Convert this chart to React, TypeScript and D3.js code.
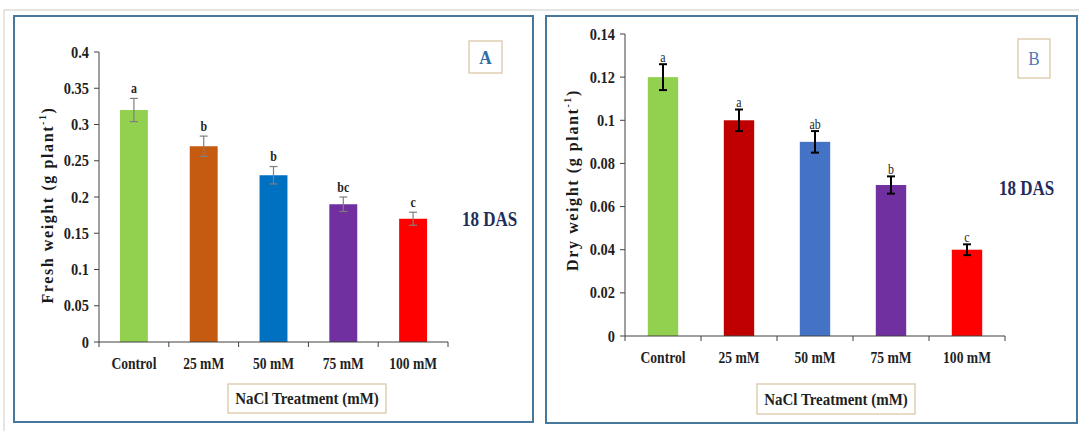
import React, { useEffect, useRef } from "react";
import * as d3 from "d3";

// treatments on the x axis
const categories = ["Control", "25 mM", "50 mM", "75 mM", "100 mM"];

// panel A: fresh weight
const freshWeight = [0.32, 0.27, 0.23, 0.19, 0.17];
const freshError = [0.016, 0.014, 0.012, 0.01, 0.009];
const freshLetters = ["a", "b", "b", "bc", "c"];
const freshTicks = [0, 0.05, 0.1, 0.15, 0.2, 0.25, 0.3, 0.35, 0.4];
const freshColors = ["#92d050", "#c55a11", "#0070c0", "#7030a0", "#ff0000"];

// panel B: dry weight
const dryWeight = [0.12, 0.1, 0.09, 0.07, 0.04];
const dryError = [0.006, 0.005, 0.005, 0.004, 0.0025];
const dryLetters = ["a", "a", "ab", "b", "c"];
const dryTicks = [0, 0.02, 0.04, 0.06, 0.08, 0.1, 0.12, 0.14];
const dryColors = ["#92d050", "#c00000", "#4472c4", "#7030a0", "#ff0000"];

const SERIF = "'Liberation Serif', 'Times New Roman', serif";

type G = d3.Selection<SVGGElement, unknown, null, undefined>;

// condensed serif text, like the squeezed Times in the original figure
function label(
  g: G,
  x: number,
  y: number,
  txt: string,
  size: number,
  sx: number,
  anchor: string,
  bold = true,
  fill = "#1f1f1f"
) {
  return g
    .append("text")
    .attr("transform", `translate(${x},${y}) scale(${sx},1)`)
    .attr("dy", "0.35em")
    .attr("text-anchor", anchor)
    .attr("font-family", SERIF)
    .attr("font-weight", bold ? "bold" : "normal")
    .attr("font-size", size)
    .attr("fill", fill)
    .text(txt);
}

type PanelOpts = {
  box: [number, number, number, number];
  xRange: [number, number];
  yRange: [number, number];
  yMax: number;
  values: number[];
  errors: number[];
  letters: string[];
  ticks: number[];
  colors: string[];
  yLabel: string;
  yLabelPos: [number, number];
  tag: string;
  tagBox: [number, number, number, number];
  tagColor: string;
  tagBold: boolean;
  dasPos: [number, number];
  nameBox: [number, number, number, number];
  errColor: string;
  errWidth: number;
  letterBold: boolean;
  letterGap: number;
};

function drawPanel(svg: d3.Selection<SVGSVGElement, unknown, null, undefined>, o: PanelOpts) {
  const g = svg.append("g") as unknown as G;

  // panel frame
  g.append("rect")
    .attr("x", o.box[0])
    .attr("y", o.box[1])
    .attr("width", o.box[2])
    .attr("height", o.box[3])
    .attr("fill", "#ffffff")
    .attr("stroke", "#45789b")
    .attr("stroke-width", 2);

  const x = d3.scaleBand<string>().domain(categories).range(o.xRange).padding(0);
  const y = d3.scaleLinear().domain([0, o.yMax]).range(o.yRange);
  const bw = x.bandwidth() * 0.4;
  const cx = (c: string) => (x(c) as number) + x.bandwidth() / 2;

  // bars
  g.selectAll(".bar")
    .data(categories)
    .enter()
    .append("rect")
    .attr("x", (d) => cx(d) - bw / 2)
    .attr("y", (d, i) => y(o.values[i]))
    .attr("width", bw)
    .attr("height", (d, i) => y(0) - y(o.values[i]))
    .attr("fill", (d, i) => o.colors[i]);

  // axes
  const axisColor = "#404040";
  g.append("line")
    .attr("x1", o.xRange[0])
    .attr("x2", o.xRange[0])
    .attr("y1", y(o.yMax))
    .attr("y2", y(0))
    .attr("stroke", axisColor);
  g.append("line")
    .attr("x1", o.xRange[0])
    .attr("x2", o.xRange[1])
    .attr("y1", y(0))
    .attr("y2", y(0))
    .attr("stroke", axisColor);

  // y ticks + labels
  o.ticks.forEach((t) => {
    g.append("line")
      .attr("x1", o.xRange[0] - 5)
      .attr("x2", o.xRange[0])
      .attr("y1", y(t))
      .attr("y2", y(t))
      .attr("stroke", axisColor);
    label(g, o.xRange[0] - 10, y(t), String(t), 16, 0.9, "end");
  });

  // x ticks at band boundaries
  const bounds = categories.map((c) => x(c) as number).concat([o.xRange[1]]);
  bounds.forEach((b) => {
    g.append("line")
      .attr("x1", b)
      .attr("x2", b)
      .attr("y1", y(0))
      .attr("y2", y(0) + 5)
      .attr("stroke", axisColor);
  });
  categories.forEach((c) => {
    label(g, cx(c), y(0) + 21, c, 17, 0.8, "middle");
  });

  // error bars + significance letters
  categories.forEach((c, i) => {
    const top = y(o.values[i] + o.errors[i]);
    const bot = y(o.values[i] - o.errors[i]);
    const eg = g.append("g").attr("stroke", o.errColor).attr("stroke-width", o.errWidth);
    eg.append("line").attr("x1", cx(c)).attr("x2", cx(c)).attr("y1", top).attr("y2", bot);
    eg.append("line").attr("x1", cx(c) - 4).attr("x2", cx(c) + 4).attr("y1", top).attr("y2", top);
    eg.append("line").attr("x1", cx(c) - 4).attr("x2", cx(c) + 4).attr("y1", bot).attr("y2", bot);
    label(g, cx(c), top - o.letterGap - 4, o.letters[i], 14, 0.85, "middle", o.letterBold, "#262626");
  });

  // y axis title
  const yl = g
    .append("text")
    .attr("transform", `translate(${o.yLabelPos[0]},${o.yLabelPos[1]}) rotate(-90)`)
    .attr("text-anchor", "middle")
    .attr("font-family", SERIF)
    .attr("font-weight", "bold")
    .attr("font-size", 16)
    .attr("letter-spacing", 1.6)
    .attr("fill", "#1a1a1a");
  yl.append("tspan").text(`${o.yLabel} (g plant`);
  yl.append("tspan").attr("font-size", 10).attr("dy", -7).text("-1");
  yl.append("tspan").attr("dy", 7).text(")");

  // x axis title box
  g.append("rect")
    .attr("x", o.nameBox[0])
    .attr("y", o.nameBox[1])
    .attr("width", o.nameBox[2])
    .attr("height", o.nameBox[3])
    .attr("fill", "#ffffff")
    .attr("stroke", "#d8c4a0")
    .attr("stroke-width", 1.2);
  label(
    g,
    o.nameBox[0] + o.nameBox[2] / 2,
    o.nameBox[1] + o.nameBox[3] / 2,
    "NaCl Treatment (mM)",
    17,
    0.88,
    "middle"
  );

  // panel tag box
  g.append("rect")
    .attr("x", o.tagBox[0])
    .attr("y", o.tagBox[1])
    .attr("width", o.tagBox[2])
    .attr("height", o.tagBox[3])
    .attr("fill", "#ffffff")
    .attr("stroke", "#d8c4a0")
    .attr("stroke-width", 1.2);
  label(
    g,
    o.tagBox[0] + o.tagBox[2] / 2,
    o.tagBox[1] + o.tagBox[3] / 2,
    o.tag,
    19,
    0.9,
    "middle",
    o.tagBold,
    o.tagColor
  );

  // days after sowing
  label(g, o.dasPos[0], o.dasPos[1], "18 DAS", 20, 0.85, "start", true, "#1f2d5c");
}

const App = () => {
  const svgRef = useRef<SVGSVGElement>(null);

  useEffect(() => {
    const svg = d3.select(svgRef.current as SVGSVGElement);
    svg.selectAll("*").remove();

    // light page frame
    svg
      .append("rect")
      .attr("x", 4)
      .attr("y", 10)
      .attr("width", 1090)
      .attr("height", 440)
      .attr("fill", "#ffffff")
      .attr("stroke", "#cccccc");

    drawPanel(svg, {
      box: [14, 16, 519, 406],
      xRange: [99, 448],
      yRange: [342, 52],
      yMax: 0.4,
      values: freshWeight,
      errors: freshError,
      letters: freshLetters,
      ticks: freshTicks,
      colors: freshColors,
      yLabel: "Fresh weight",
      yLabelPos: [53, 205],
      tag: "A",
      tagBox: [469, 41, 33, 32],
      tagColor: "#2e6ea6",
      tagBold: true,
      dasPos: [462, 219],
      nameBox: [228, 384, 158, 29],
      errColor: "#7f7f7f",
      errWidth: 1.2,
      letterBold: true,
      letterGap: 6,
    });

    drawPanel(svg, {
      box: [546, 16, 531, 407],
      xRange: [625, 1005],
      yRange: [336, 34],
      yMax: 0.14,
      values: dryWeight,
      errors: dryError,
      letters: dryLetters,
      ticks: dryTicks,
      colors: dryColors,
      yLabel: "Dry weight",
      yLabelPos: [578, 180],
      tag: "B",
      tagBox: [1018, 39, 32, 39],
      tagColor: "#5576b8",
      tagBold: false,
      dasPos: [999, 188],
      nameBox: [757, 384, 158, 30],
      errColor: "#000000",
      errWidth: 2,
      letterBold: false,
      letterGap: 3,
    });
  }, []);

  return (
    <svg
      ref={svgRef}
      width={1079}
      height={431}
      style={{ position: "absolute", left: 0, top: 0, background: "#ffffff" }}
    />
  );
};

export default App;
